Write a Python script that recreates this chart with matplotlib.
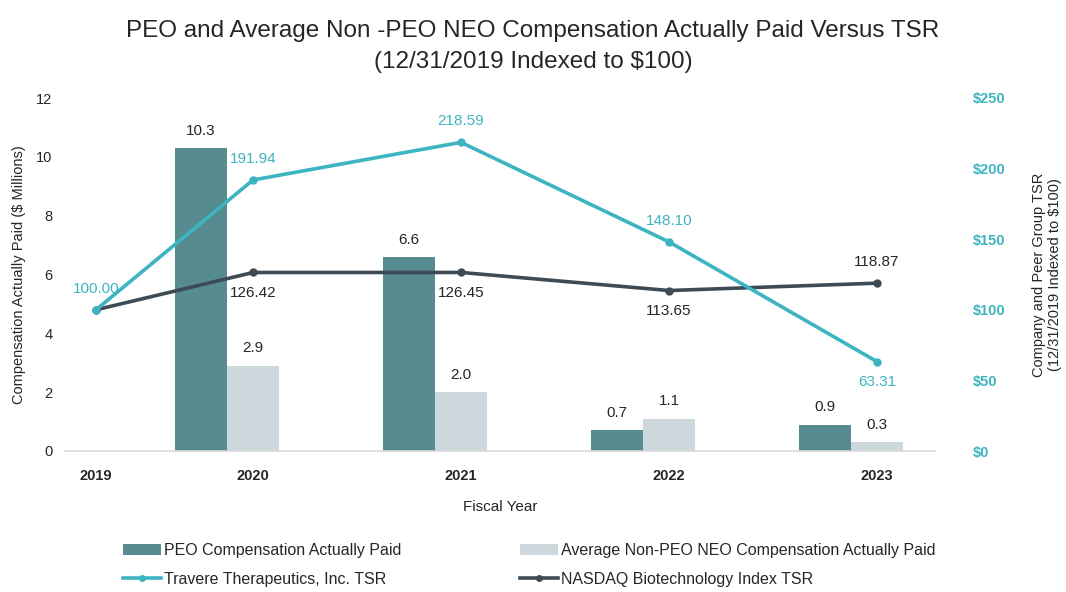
import matplotlib
matplotlib.use("Agg")
import matplotlib.pyplot as plt
from matplotlib.patches import Patch
from matplotlib.lines import Line2D

plt.rcParams['font.family'] = ['Liberation Sans', 'DejaVu Sans']

years = ["2019", "2020", "2021", "2022", "2023"]
bar_years = ["2020", "2021", "2022", "2023"]
peo_cap = [10.3, 6.6, 0.7, 0.9]
neo_cap = [2.9, 2.0, 1.1, 0.3]
travere_tsr = [100.00, 191.94, 218.59, 148.10, 63.31]
nasdaq_tsr = [100.00, 126.42, 126.45, 113.65, 118.87]
travere_labels = ["100.00", "191.94", "218.59", "148.10", "63.31"]
nasdaq_labels = ["", "126.42", "126.45", "113.65", "118.87"]
left_ticks = [0, 2, 4, 6, 8, 10, 12]
right_ticks = [0, 50, 100, 150, 200, 250]
right_tick_labels = ["$0", "$50", "$100", "$150", "$200", "$250"]

# layout positions
xpos = [0.245, 1, 2, 3, 4]
bar_x = xpos[1:]
bw = 0.247

c_peo = "#568B8F"
c_neo = "#CDD8DC"
c_trav = "#3DB4C1"
c_nas = "#3E4A54"
c_text = "#262626"

W, H = 1066, 592
fig = plt.figure(figsize=(W / 100, H / 100), dpi=100)
ax = fig.add_axes([65 / W, (H - 451) / H, 870 / W, 353 / H])
ax2 = ax.twinx()

ax.bar([x - 0.25 for x in bar_x], peo_cap, width=bw, color=c_peo, zorder=2)
ax.bar(bar_x, neo_cap, width=bw, color=c_neo, zorder=2)
for x, v in zip(bar_x, peo_cap):
    ax.text(x - 0.25, v + 0.35, f"{v:.1f}", ha="center", va="bottom", fontsize=11, color=c_text)
for x, v in zip(bar_x, neo_cap):
    ax.text(x, v + 0.35, f"{v:.1f}", ha="center", va="bottom", fontsize=11, color=c_text)

ax.set_xlim(0.096, 4.279)
ax.set_ylim(0, 12)
ax.set_yticks(left_ticks)
ax.set_yticklabels([str(t) for t in left_ticks], fontsize=10.5, color=c_text)
ax.set_xticks(xpos)
ax.set_xticklabels(years, fontsize=10.5, fontweight="bold", color=c_text)
ax.tick_params(axis="both", length=0)
ax.tick_params(axis="x", pad=13)
ax.tick_params(axis="y", pad=9)
for s in ["top", "right", "left"]:
    ax.spines[s].set_visible(False)
ax.spines["bottom"].set_color("#D9D9D9")
ax.spines["bottom"].set_linewidth(1.2)
ax.set_xlabel("Fiscal Year", fontsize=11, color=c_text, labelpad=12)
ax.set_ylabel("Compensation Actually Paid ($ Millions)", fontsize=10.5, color=c_text, labelpad=7)

ax2.plot(xpos, travere_tsr, color=c_trav, lw=2.6, marker="o", ms=5, zorder=4)
ax2.plot(xpos, nasdaq_tsr, color=c_nas, lw=2.6, marker="o", ms=5, zorder=3)
ax2.set_ylim(0, 250)
ax2.set_yticks(right_ticks)
ax2.set_yticklabels(right_tick_labels, fontsize=10.5, fontweight="bold", color=c_trav)
ax2.tick_params(axis="y", length=0, pad=27)
for s in ["top", "right", "left", "bottom"]:
    ax2.spines[s].set_visible(False)
ax2.set_ylabel("Company and Peer Group TSR\n(12/31/2019 Indexed to $100)", fontsize=10.5,
               color=c_text, labelpad=19)

trav_pos = ["above", "above", "above", "above", "below"]
for x, v, lab, p in zip(xpos, travere_tsr, travere_labels, trav_pos):
    off = 10 if p == "above" else -10
    ax2.annotate(lab, (x, v), xytext=(0, off), textcoords="offset points",
                 ha="center", va="bottom" if p == "above" else "top", fontsize=11, color=c_trav)
nas_pos = ["", "below", "below", "below", "above"]
for x, v, lab, p in zip(xpos, nasdaq_tsr, nasdaq_labels, nas_pos):
    if not lab:
        continue
    off = 10 if p == "above" else -10
    ax2.annotate(lab, (x, v), xytext=(0, off), textcoords="offset points",
                 ha="center", va="bottom" if p == "above" else "top", fontsize=11, color=c_text)

fig.text(0.5, 1 - 31 / H, "PEO and Average Non -PEO NEO Compensation Actually Paid Versus TSR",
         ha="center", va="center", fontsize=17.5, color=c_text)
fig.text(0.5, 1 - 62 / H, "(12/31/2019 Indexed to $100)",
         ha="center", va="center", fontsize=17.5, color=c_text)

h_peo = Patch(facecolor=c_peo, label="PEO Compensation Actually Paid")
h_neo = Patch(facecolor=c_neo, label="Average Non-PEO NEO Compensation Actually Paid")
h_trav = Line2D([], [], color=c_trav, lw=2.6, marker="o", ms=4, label="Travere Therapeutics, Inc. TSR")
h_nas = Line2D([], [], color=c_nas, lw=2.6, marker="o", ms=4, label="NASDAQ Biotechnology Index TSR")

common = dict(frameon=False, fontsize=11.5, handlelength=2.4, handleheight=0.7,
              handletextpad=0.15, labelspacing=0.85, loc="upper left", borderaxespad=0, borderpad=0)
leg1 = fig.legend(handles=[h_peo, h_trav], bbox_to_anchor=(123 / W, 1 - 543 / H), **common)
leg2 = fig.legend(handles=[h_neo, h_nas], bbox_to_anchor=(520 / W, 1 - 543 / H), **common)
for lg in (leg1, leg2):
    for t in lg.get_texts():
        t.set_color(c_text)

fig.savefig("out.png", dpi=100)
